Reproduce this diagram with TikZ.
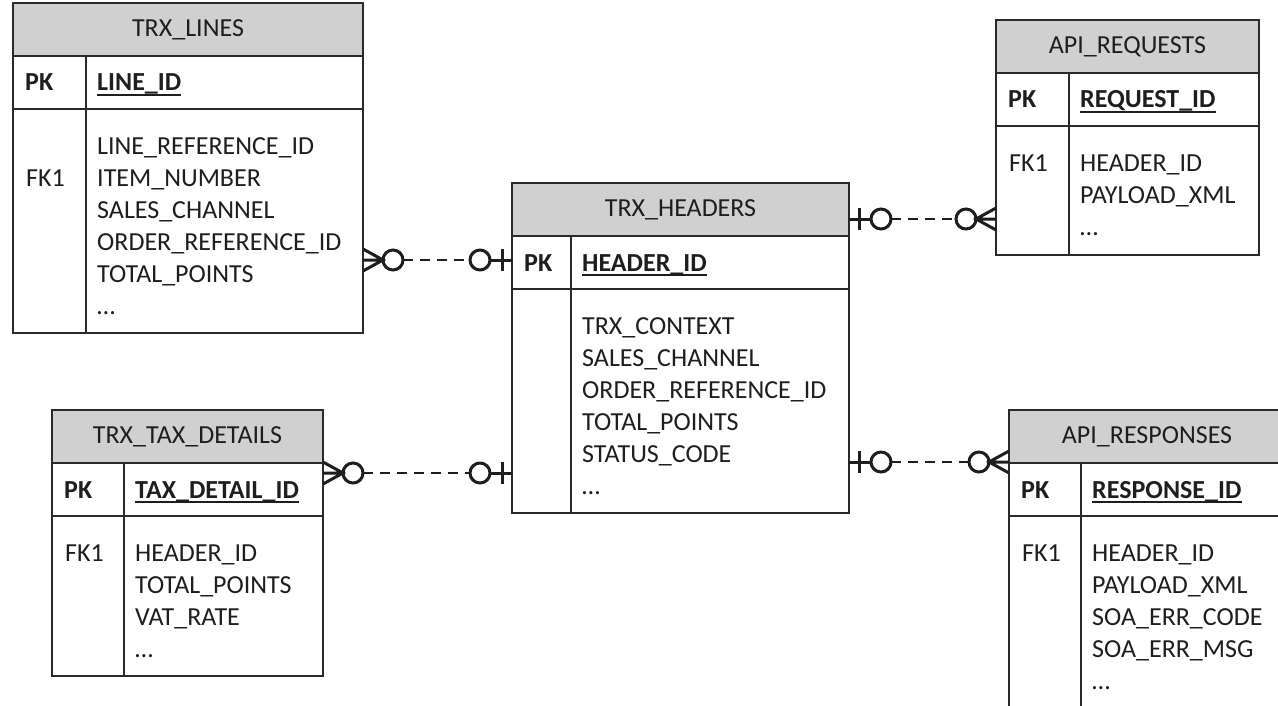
\documentclass[tikz,border=0pt]{standalone}
\usepackage{fontspec}
\setmainfont{Carlito}
\definecolor{ink}{HTML}{1E1E1E}
\definecolor{edge}{HTML}{2A2A2A}
\definecolor{headfill}{HTML}{D0D0D0}
\newcommand\erfont{\fontsize{26pt}{32pt}\selectfont}
\tikzset{
  tabframe/.style={draw=edge, line width=1.8pt, inner sep=0pt, outer sep=0pt},
  titlebar/.style={tabframe, fill=headfill, minimum height=53pt, text=ink, font=\erfont},
  rowbar/.style={tabframe, minimum height=53pt},
  rule/.style={draw=edge, line width=1.8pt},
  keytext/.style={inner sep=0pt, text=ink, font=\erfont\bfseries},
  fieldtext/.style={inner sep=0pt, text=ink, font=\erfont},
  sym/.style={draw=ink, line width=3pt},
  dashlink/.style={draw=ink, line width=2.8pt, dash pattern=on 10pt off 7pt},
  % zero-or-many end: crow's foot on the border, then a ring
  zeromany/.pic={
    \draw[sym] (0,11) -- (20,0) -- (0,-11) (0,0) -- (20,0);
    \draw[sym] (30,0) circle[radius=10pt];
  },
  % zero-or-one end: bar near the border, then a ring
  zeroone/.pic={
    \draw[sym] (0,0) -- (22,0) (10,11) -- (10,-11);
    \draw[sym] (32,0) circle[radius=10pt];
  },
}
% #1 name, #2 left, #3 top, #4 width, #5 height, #6 key column width,
% #7 title, #8 primary key, #9 row of the FK1 mark (0 = none)
\newcommand\ertable[9]{%
  \node[tabframe, minimum width=#4pt, minimum height=#5pt, anchor=north west] (#1) at (#2,#3) {};
  \node[titlebar, minimum width=#4pt, anchor=north west] (#1-title) at (#2,#3) {#7};
  \node[rowbar, minimum width=#4pt, anchor=north west] (#1-pkrow) at (#1-title.south west) {};
  \coordinate (#1-div) at ([xshift=#6pt]#1-title.south west);
  \draw[rule] (#1-div) -- (#1-div |- #1.south);
  \coordinate (#1-pkc) at (#1-div |- #1-pkrow.west);
  \coordinate (#1-body) at (#1-div |- #1-pkrow.south);
  \node[keytext, anchor=base west] (#1-pk) at ([xshift=12pt,yshift=-8.5pt]#1-pkrow.west) {PK};
  \node[keytext, anchor=base west] (#1-pkname) at ([xshift=11pt,yshift=-8.5pt]#1-pkc) {#8};
  \draw[draw=ink, line width=1.5pt] ([yshift=-4pt]#1-pkname.base west) -- ([yshift=-4pt]#1-pkname.base east);
  \ifnum#9>0
    \node[fieldtext, anchor=base west] (#1-fk) at ([xshift=13pt,yshift={-(45.5+(#9-1)*32)*1pt}]#1-pkrow.south west) {FK1};
  \fi
}
\newcommand\erfields[2]{%
  \foreach \f [count=\i] in {#2} {
    \node[fieldtext, anchor=base west] (#1-f\i) at ([xshift=11pt,yshift={-(45.5+(\i-1)*32)*1pt}]#1-body) {\f};
  }
}
\begin{document}
\begin{tikzpicture}[x=1pt, y=-1pt]
  \useasboundingbox (0,0) rectangle (1278,706);
  \fill[white] (0,0) rectangle (1278,706);
  \clip (0,0) rectangle (1278,706);

  % tables
  \ertable{lines}{13}{3}{350}{330}{73}{TRX\_LINES}{LINE\_ID}{2}
  \erfields{lines}{LINE\_REFERENCE\_ID, ITEM\_NUMBER, SALES\_CHANNEL, ORDER\_REFERENCE\_ID, TOTAL\_POINTS, …}

  \ertable{headers}{512}{183}{337}{330}{59}{TRX\_HEADERS}{HEADER\_ID}{0}
  \erfields{headers}{TRX\_CONTEXT, SALES\_CHANNEL, ORDER\_REFERENCE\_ID, TOTAL\_POINTS, STATUS\_CODE, …}

  \ertable{requests}{996}{20}{263}{235}{73}{API\_REQUESTS}{REQUEST\_ID}{1}
  \erfields{requests}{HEADER\_ID, PAYLOAD\_XML, …}

  \ertable{tax}{52}{410}{271}{266}{72}{TRX\_TAX\_DETAILS}{TAX\_DETAIL\_ID}{1}
  \erfields{tax}{HEADER\_ID, TOTAL\_POINTS, VAT\_RATE, …}

  \ertable{responses}{1009}{410}{276}{330}{72}{API\_RESPONSES}{RESPONSE\_ID}{1}
  \erfields{responses}{HEADER\_ID, PAYLOAD\_XML, SOA\_ERR\_CODE, SOA\_ERR\_MSG, …}

  % relationship rows
  \coordinate (r1) at (0,260);
  \coordinate (r2) at (0,219);
  \coordinate (r3) at (0,473);
  \coordinate (r4) at (0,462);

  % TRX_LINES >o----o| TRX_HEADERS
  \coordinate (l1a) at (lines.east |- r1);
  \coordinate (l1b) at (headers.west |- r1);
  \pic at (l1a) {zeromany};
  \pic[rotate=180] at (l1b) {zeroone};
  \draw[dashlink] ([xshift=40pt]l1a) -- ([xshift=-42pt]l1b);

  % TRX_HEADERS |o----o< API_REQUESTS
  \coordinate (l2a) at (headers.east |- r2);
  \coordinate (l2b) at (requests.west |- r2);
  \pic at (l2a) {zeroone};
  \pic[rotate=180] at (l2b) {zeromany};
  \draw[dashlink] ([xshift=42pt]l2a) -- ([xshift=-40pt]l2b);

  % TRX_TAX_DETAILS >o----o| TRX_HEADERS
  \coordinate (l3a) at (tax.east |- r3);
  \coordinate (l3b) at (headers.west |- r3);
  \pic at (l3a) {zeromany};
  \pic[rotate=180] at (l3b) {zeroone};
  \draw[dashlink] ([xshift=40pt]l3a) -- ([xshift=-42pt]l3b);

  % TRX_HEADERS |o----o< API_RESPONSES
  \coordinate (l4a) at (headers.east |- r4);
  \coordinate (l4b) at (responses.west |- r4);
  \pic at (l4a) {zeroone};
  \pic[rotate=180] at (l4b) {zeromany};
  \draw[dashlink] ([xshift=42pt]l4a) -- ([xshift=-40pt]l4b);
\end{tikzpicture}
\end{document}
